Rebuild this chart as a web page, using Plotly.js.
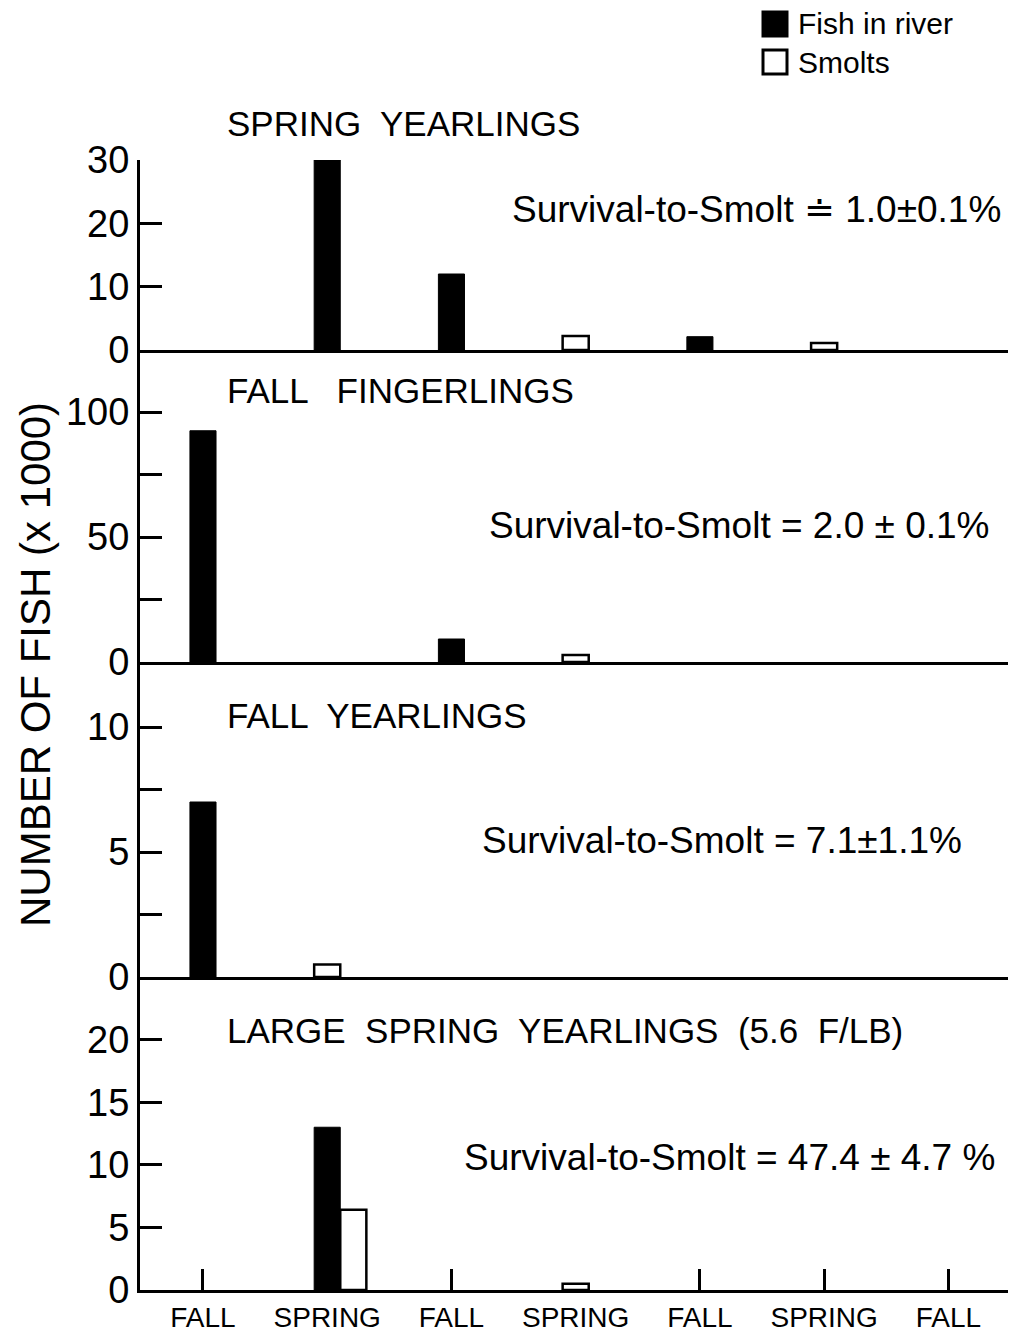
<!DOCTYPE html>
<html><head><meta charset="utf-8">
<script src="https://cdn.plot.ly/plotly-3.0.1.min.js"></script>
<style>body{margin:0;background:#fff}#chart{width:1011px;height:1337px}</style>
</head><body><div id="chart"></div>
<script>
// ---- data ----
const seasons = ['FALL','SPRING','FALL','SPRING','FALL','SPRING','FALL'];
const seasonPos = [0,1,2,3,4,5,6];
const panelTitles = ['SPRING  YEARLINGS','FALL   FINGERLINGS','FALL  YEARLINGS','LARGE  SPRING  YEARLINGS  (5.6  F/LB)'];
const survivalTexts = ['Survival-to-Smolt \u2250 1.0\u00b10.1%','Survival-to-Smolt = 2.0 \u00b1 0.1%','Survival-to-Smolt = 7.1\u00b11.1%','Survival-to-Smolt = 47.4 \u00b1 4.7 %'];
const legendNames = ['Fish in river','Smolts'];
const fishSpringYearlings   = [null, 30,   12,  null, 2.1, null, null];
const smoltsSpringYearlings = [null, null, null, 2.2, null, 1.1, null];
const fishFallFingerlings   = [92.5, null, 9.2, null, null, null, null];
const smoltsFallFingerlings = [null, null, null, 2.8, null, null, null];
const fishFallYearlings     = [7.0,  null, null, null, null, null, null];
const smoltsFallYearlings   = [null, 0.5,  null, null, null, null, null];
const fishLargeSpring       = [null, 13.0, null, null, null, null, null];
const smoltsLargeSpring     = [null, 6.4,  null, 0.5, null, null, null];
const yTickVals = [[0,10,20,30],[0,25,50,75,100],[0,2.5,5,7.5,10],[0,5,10,15,20]];
const yTickText = [['0','10','20','30'],['0','','50','','100'],['0','','5','','10'],['0','5','10','15','20']];
const yMax = [30, 124.8, 12.6, 25];
const yTitle = 'NUMBER OF FISH (x 1000)';

const fishSeries = [fishSpringYearlings, fishFallFingerlings, fishFallYearlings, fishLargeSpring];
const smoltSeries = [smoltsSpringYearlings, smoltsFallFingerlings, smoltsFallYearlings, smoltsLargeSpring];

// ---- layout geometry ----
const W = 1011, H = 1337;
const M = {l:140, r:3, t:160, b:47};
const PW = W - M.l - M.r, PH = H - M.t - M.b;
const panelPx = [[160,350],[350,662],[662,977],[977,1290]];
const px2x = p => (p - M.l) / PW;
const px2y = p => (H - M.b - p) / PH;
const FONT = 'Liberation Sans, Arial, sans-serif';
const BW = 0.21;
const XR = [-0.507, 6.48];

const traces = [];
const layout = {
  width: W, height: H, margin: M, paper_bgcolor:'#fff', plot_bgcolor:'#fff',
  showlegend:false, bargap:0, barmode:'overlay',
  font:{family:FONT, color:'#000'},
  annotations: [], shapes: []
};

for (let i = 0; i < 4; i++) {
  const s = i === 0 ? '' : String(i+1);
  const xa = 'x' + s, ya = 'y' + s;
  const fish = fishSeries[i], sm = smoltSeries[i];
  const smOffset = seasonPos.map((_, k) => (fish[k] != null && sm[k] != null) ? BW/2 : -BW/2);
  traces.push({type:'bar', x:seasonPos, y:fish, xaxis:xa, yaxis:ya, name:legendNames[0],
    width:BW, offset:-BW/2, marker:{color:'#000', line:{color:'#000', width:1}}});
  traces.push({type:'bar', x:seasonPos, y:sm, xaxis:xa, yaxis:ya, name:legendNames[1],
    width:BW, offset:smOffset, marker:{color:'#fff', line:{color:'#000', width:2.5}}});
  const bottom = i === 3;
  layout['xaxis' + s] = {
    domain:[0,1], anchor:ya, range:XR, showgrid:false, zeroline:false,
    showline:true, linewidth:3, linecolor:'#000',
    tickmode:'array', tickvals:seasonPos, ticktext:seasons,
    ticks:'', showticklabels: bottom, tickfont:{size:28, family:FONT}
  };
  layout['yaxis' + s] = {
    domain:[px2y(panelPx[i][1]), px2y(panelPx[i][0])], anchor:xa,
    range:[0, yMax[i]], showgrid:false, zeroline:false,
    showline:true, linewidth:3, linecolor:'#000',
    tickmode:'array', tickvals:yTickVals[i], ticktext:yTickText[i],
    ticks:'inside', ticklen:22, tickwidth:3, tickcolor:'#000',
    tickfont:{size:38, family:FONT}
  };
  layout.annotations.push({xref:'paper', yref:'paper', x:px2x(225), y:px2y([123,390,715,1030][i]),
    xanchor:'left', yanchor:'middle', showarrow:false, text:panelTitles[i], font:{size:35, family:FONT}});
  layout.annotations.push({xref:'paper', yref:'paper', x:px2x([510,487,480,462][i]), y:px2y([210,525,840,1157][i]),
    xanchor:'left', yanchor:'middle', showarrow:false, text:survivalTexts[i], font:{size:37, family:FONT}});
}
for (let i = 0; i < 3; i++) { const s = i === 0 ? '' : String(i+1); layout['xaxis'+s].matches = 'x4'; }

// tick marks on the bottom axis only where no bar stands
const emptyPos = seasonPos.filter((_, k) => fishLargeSpring[k] == null && smoltsLargeSpring[k] == null);
layout.xaxis5 = {overlaying:'x4', anchor:'y4', range:XR, showgrid:false, zeroline:false, showline:false,
  tickmode:'array', tickvals:emptyPos, showticklabels:false,
  ticks:'inside', ticklen:21, tickwidth:3, tickcolor:'#000'};
traces.push({type:'scatter', x:[], y:[], xaxis:'x5', yaxis:'y4', hoverinfo:'skip'});

layout.annotations.push({xref:'paper', yref:'paper', x:px2x(35), y:px2y(665), textangle:-90,
  xanchor:'center', yanchor:'middle', showarrow:false, text:yTitle, font:{size:42, family:FONT}});

// legend
const legY = [24, 62];
legendNames.forEach((n, k) => {
  layout.shapes.push({type:'rect', xref:'paper', yref:'paper',
    x0:px2x(763), x1:px2x(787), y0:px2y(legY[k]+12), y1:px2y(legY[k]-12),
    fillcolor: k === 0 ? '#000' : '#fff', line:{color:'#000', width:3}});
  layout.annotations.push({xref:'paper', yref:'paper', x:px2x(796), y:px2y(legY[k]),
    xanchor:'left', yanchor:'middle', showarrow:false, text:n, font:{size:30, family:FONT}});
});

Plotly.newPlot('chart', traces, layout, {displayModeBar:false, staticPlot:true});
</script></body></html>
